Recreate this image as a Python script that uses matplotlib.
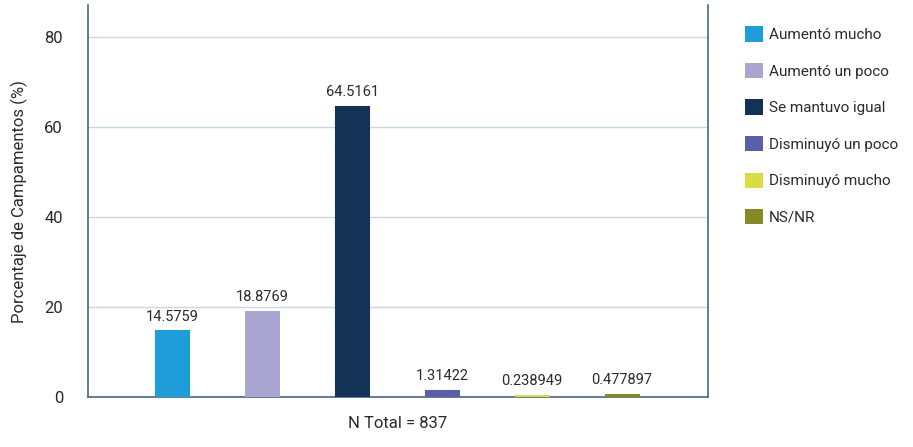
import matplotlib
matplotlib.use("Agg")
import matplotlib.pyplot as plt
from matplotlib.patches import Patch

categories = ["Aumentó mucho", "Aumentó un poco", "Se mantuvo igual",
              "Disminuyó un poco", "Disminuyó mucho", "NS/NR"]
values = [14.5759, 18.8769, 64.5161, 1.31422, 0.238949, 0.477897]
value_labels = ["14.5759", "18.8769", "64.5161", "1.31422", "0.238949", "0.477897"]
colors = ["#1f9dd9", "#aba5d1", "#143255", "#5a5fa8", "#d8dc45", "#878a24"]
yticks = [0, 20, 40, 60, 80]

plt.rcParams['font.family'] = ['Roboto', 'DejaVu Sans']
text_color = "#2b2b2b"
spine_color = "#4d6585"
grid_color = "#c9d6e4"

fig = plt.figure(figsize=(9.13, 4.47), dpi=100)
ax = fig.add_axes([0.0964, 0.1119, 0.6791, 0.876])

x = list(range(len(categories)))
bars = ax.bar(x, values, width=0.365, color=colors, edgecolor=colors,
              linewidth=1.5, zorder=3)

for xi, v, lab in zip(x, values, value_labels):
    ax.annotate(lab, (xi, v), xytext=(0, 5.5), textcoords="offset points",
                ha="center", va="bottom", fontsize=10.5, color=text_color)

ax.set_xlim(-0.935, 5.955)
ax.set_ylim(0, 87)
ax.set_yticks(yticks)
ax.set_xticks([])
ax.yaxis.grid(True, color=grid_color, linewidth=1, zorder=0)
ax.tick_params(axis='y', length=0, pad=18, labelsize=12, labelcolor=text_color)
for s in ["top"]:
    ax.spines[s].set_visible(False)
for s in ["left", "right", "bottom"]:
    ax.spines[s].set_color(spine_color)
    ax.spines[s].set_linewidth(1.2)

ax.set_ylabel("Porcentaje de Campamentos (%)", fontsize=12, color=text_color, labelpad=12)
ax.set_xlabel("N Total = 837", fontsize=12, color=text_color, labelpad=14)

handles = [Patch(facecolor=c, edgecolor='none') for c in colors]
fig.legend(handles, categories, loc="upper left", bbox_to_anchor=(0.816, 0.941),
           frameon=False, fontsize=11, handlelength=1.15, handleheight=1.15,
           handletextpad=0.42, labelspacing=1.36, labelcolor=text_color,
           borderaxespad=0, borderpad=0)

fig.savefig("out.png", dpi=100)
